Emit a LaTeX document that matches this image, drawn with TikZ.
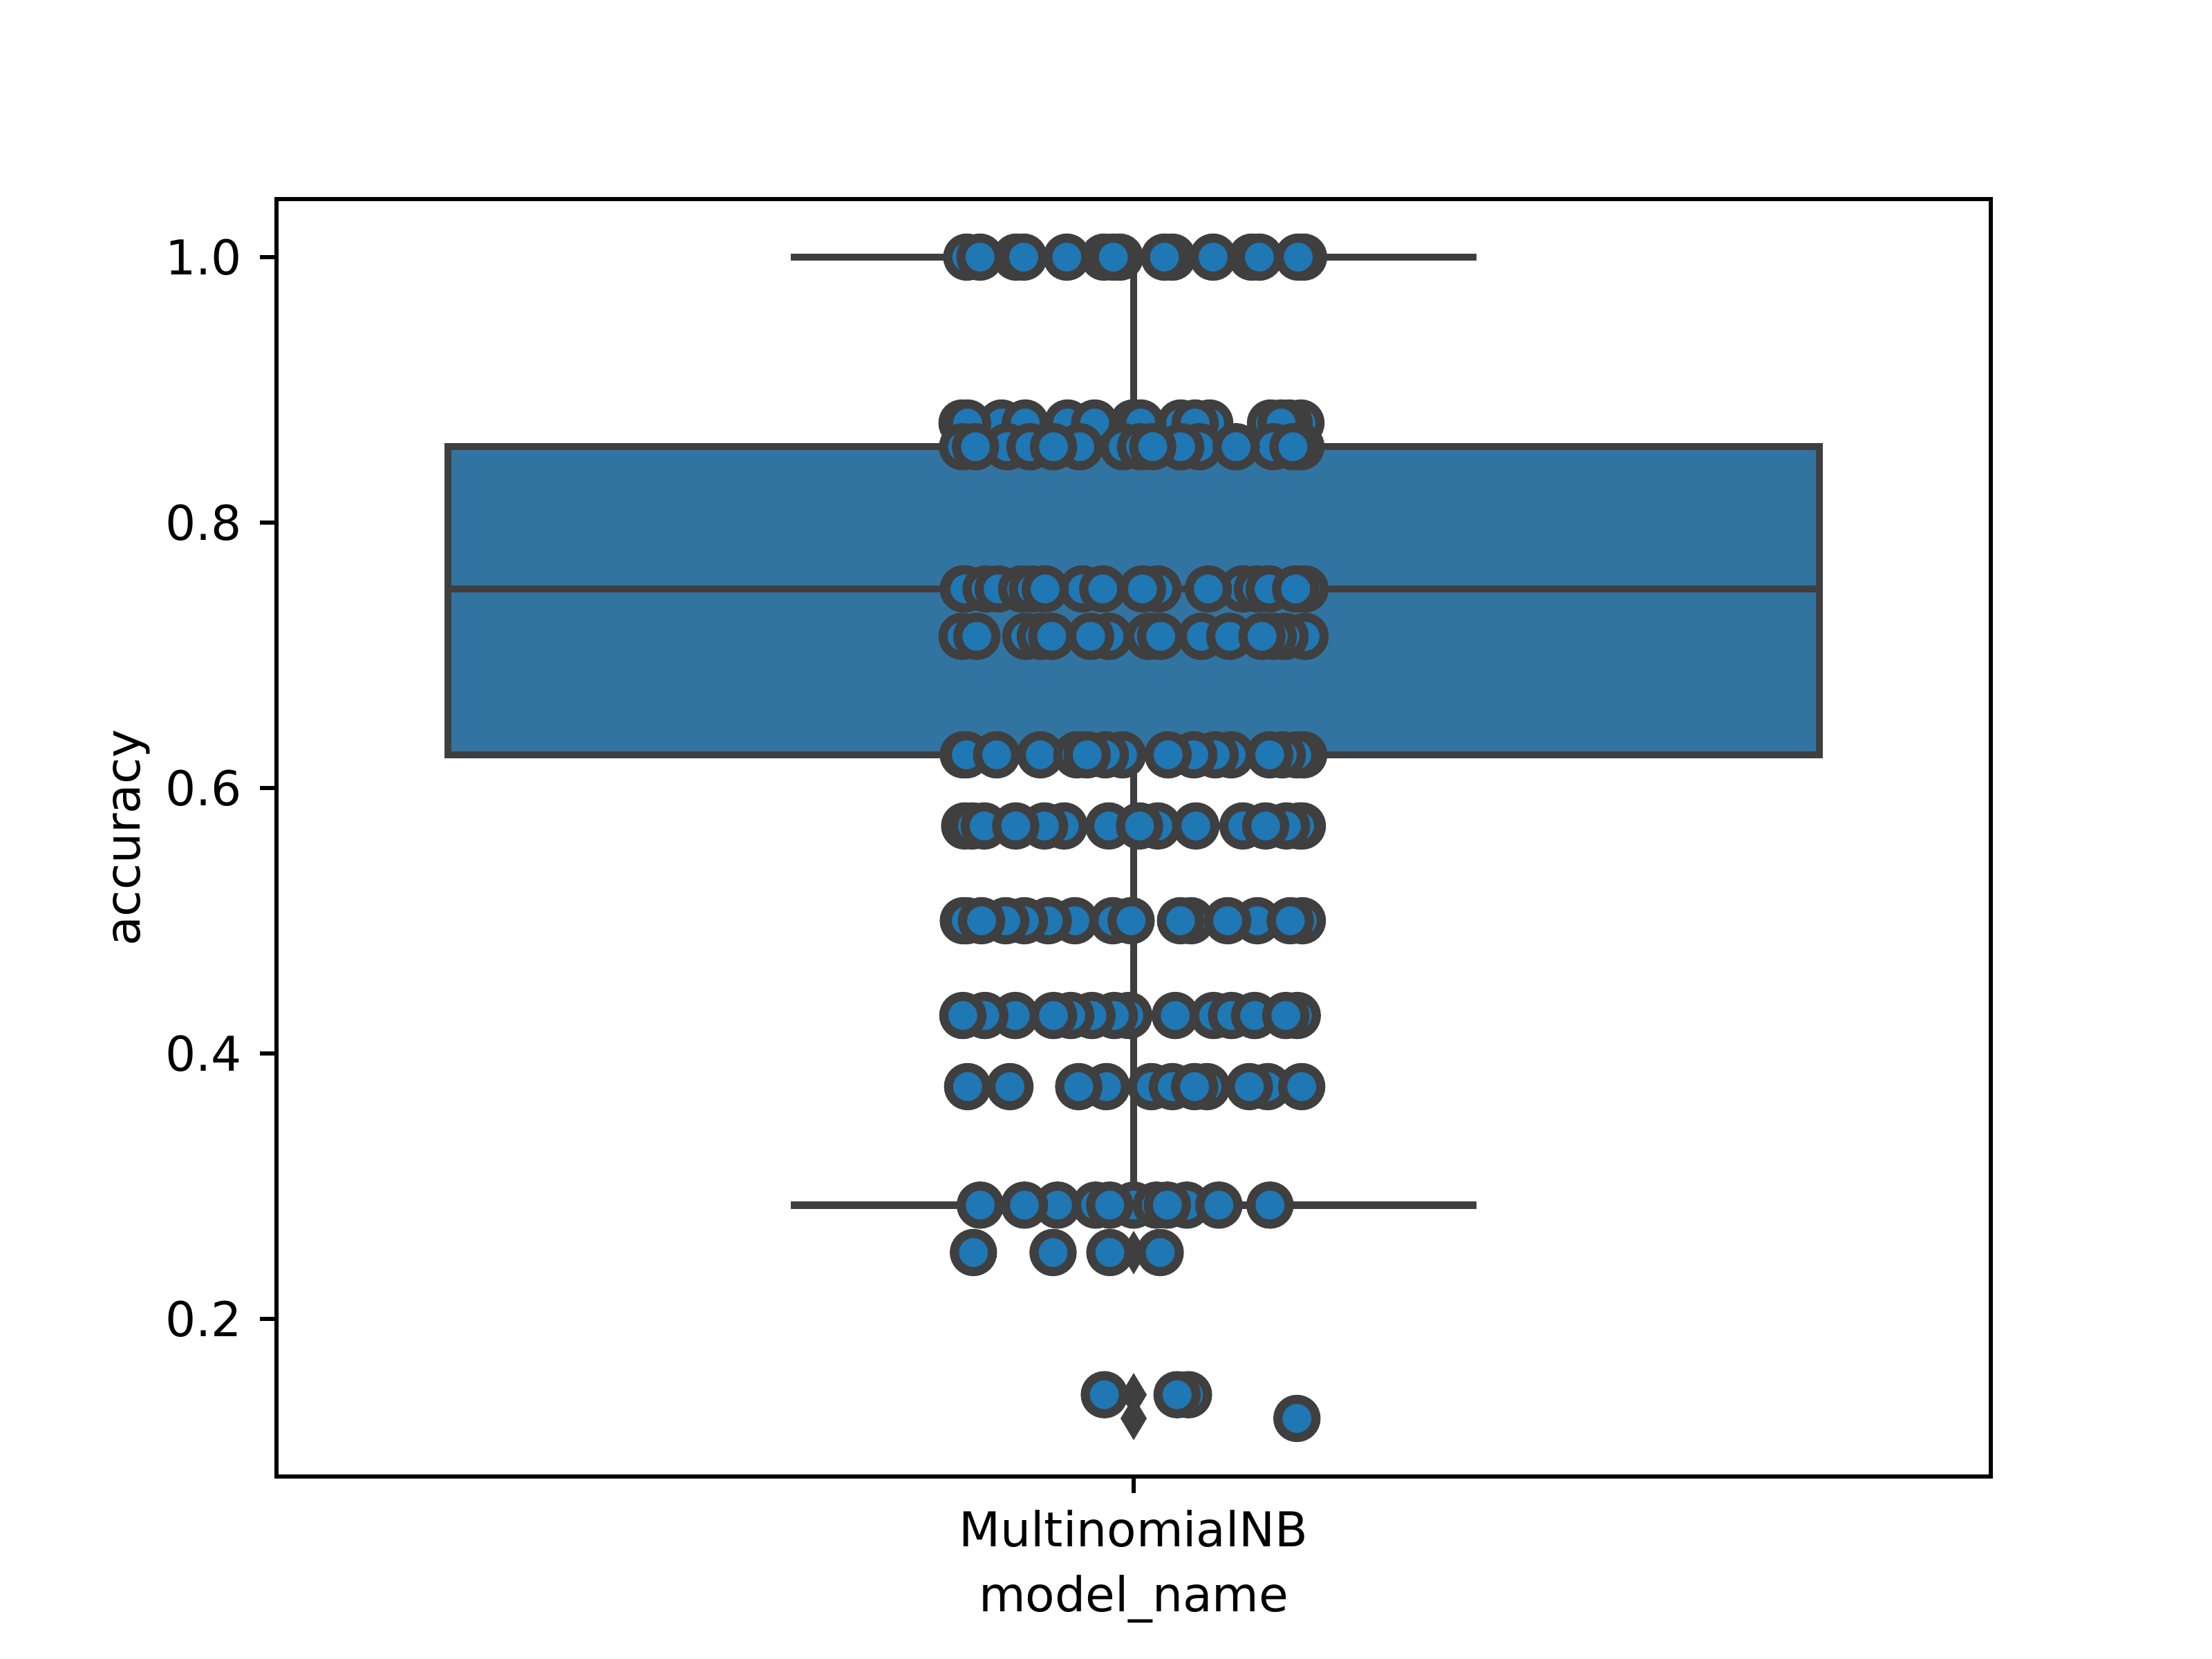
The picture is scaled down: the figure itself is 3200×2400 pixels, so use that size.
\documentclass[tikz,border=0pt]{standalone}
\usepackage{fontspec}
\setmainfont{DejaVu Sans}
\definecolor{boxblue}{HTML}{3274A1}
\definecolor{lgray}{HTML}{3F3F3F}
\definecolor{ptblue}{HTML}{1F77B4}
\tikzset{
  pt/.style={fill=ptblue, draw=lgray, line width=1.9pt},
  boxline/.style={draw=lgray, line width=1.5pt},
  spine/.style={draw=black, line width=0.8pt},
  tickmark/.style={draw=black, line width=0.8pt},
  ticklabel/.style={inner sep=0pt, font=\fontsize{10pt}{12pt}\selectfont},
  flier/.style={fill=lgray}
}
\begin{document}
\begin{tikzpicture}[x=0.144pt, y=0.144pt]
\useasboundingbox (0,0) rectangle (3200,2400);
\fill[white] (0,0) rectangle (3200,2400);
% box
\draw[boxline, fill=boxblue] (648,1308) rectangle (2632,1753.7);
% whiskers
\coordinate (wlo) at (1640,656.6);
\coordinate (whi) at (1640,2028);
\coordinate (blo) at (1640,1308);
\coordinate (bhi) at (1640,1753.7);
\draw[boxline] (blo) -- (wlo);
\draw[boxline] (bhi) -- (whi);
\coordinate (capl1) at (1144,656.6);
\coordinate (capr1) at (2136,656.6);
\coordinate (capl2) at (1144,2028);
\coordinate (capr2) at (2136,2028);
\draw[boxline] (capl1) -- (capr1);
\draw[boxline] (capl2) -- (capr2);
% median
\coordinate (medl) at (648,1548);
\coordinate (medr) at (2632,1548);
\draw[boxline] (medl) -- (medr);
% fliers
\foreach \yy in {588,382.3,348}
  \fill[flier] (1640,\yy+31.5) -- (1659,\yy) -- (1640,\yy-31.5) -- (1621,\yy) -- cycle;
% points
\foreach \x in {1398.6,1470,1597,1811,1885.8,1696,1620,1417.7,1480.9,1543.3,1610.6,1684.5,1754.9,1821.9,1878.1}
  \draw[pt] (\x,2028) circle[radius=27.6];
\foreach \x in {1391.7,1449,1639,1708,1838,1882,1865,1750,1399.8,1483.2,1544.4,1583.5,1650.4,1728.9,1853.3}
  \draw[pt] (\x,1788) circle[radius=27.6];
\foreach \x in {1392.5,1457,1490,1625,1650,1842,1882,1735,1708,1562,1411.2,1524.1,1667.6,1788.2,1870.5}
  \draw[pt] (\x,1753.7) circle[radius=27.6];
\foreach \x in {1393.6,1396,1426.5,1444,1478,1493.5,1566,1798,1819,1888,1675,1511.9,1595.3,1652.7,1748,1836,1874.3}
  \draw[pt] (\x,1548) circle[radius=27.6];
\foreach \x in {1391.7,1484,1505,1662,1738,1779,1888,1859,1842,1604.5,1413.1,1521.4,1577.7,1679.1,1825.7}
  \draw[pt] (\x,1479.4) circle[radius=27.6];
\foreach \x in {1393.6,1398,1441.8,1505,1558,1624,1599,1572.7,1781,1758,1727,1689.8,1886,1876,1855,1836.8}
  \draw[pt] (\x,1308) circle[radius=27.6];
\foreach \x in {1395.5,1407,1423.9,1539.5,1511,1469.4,1604,1675,1648.5,1730,1798,1884,1880,1861,1831}
  \draw[pt] (\x,1205.1) circle[radius=27.6];
\foreach \x in {1393.6,1398,1610,1555,1516.5,1482,1455,1420,1636.3,1723,1707.8,1884,1819,1776,1866.6}
  \draw[pt] (\x,1068) circle[radius=27.6];
\foreach \x in {1633,1612,1579.7,1549,1524.1,1468.7,1424.7,1392.9,1755.6,1781.7,1700.2,1815,1876.7,1860.1}
  \draw[pt] (\x,930.9) circle[radius=27.6];
\foreach \x in {1399.8,1461,1600.7,1560.5,1665.7,1696,1746,1728.1,1834,1807.3,1883.1}
  \draw[pt] (\x,828) circle[radius=27.6];
\foreach \x in {1418.1,1530,1482,1585,1640,1605.3,1673,1717,1688.7,1763.3,1837.2}
  \draw[pt] (\x,656.6) circle[radius=27.6];
\foreach \x in {1408.2,1523.4,1605.6,1678.4}
  \draw[pt] (\x,588) circle[radius=27.6];
\foreach \x in {1719.3,1702.8,1597.6}
  \draw[pt] (\x,382.3) circle[radius=27.6];
\foreach \x in {1876.2}
  \draw[pt] (\x,348) circle[radius=27.6];
% axes frame
\draw[spine] (400,264) rectangle (2880,2112);
% y ticks
\foreach \v/\yy in {0.2/492,0.4/876,0.6/1260,0.8/1644,1.0/2028}{
  \draw[tickmark] (375.7,\yy) -- (400,\yy);
  \node[ticklabel, anchor=east] (yt\v) at (351.4,\yy) {\v};
}
% x tick
\coordinate (xt0) at (1640,264);
\coordinate (xt1) at (1640,239.7);
\draw[tickmark] (xt0) -- (xt1);
\node[ticklabel, anchor=base] (xlab) at (1640,162) {MultinomialNB};
\node[ticklabel, anchor=base] (xtitle) at (1640,68) {model\_name};
\node[ticklabel, anchor=base, rotate=90] (ytitle) at (202,1188) {accuracy};
\end{tikzpicture}
\end{document}
